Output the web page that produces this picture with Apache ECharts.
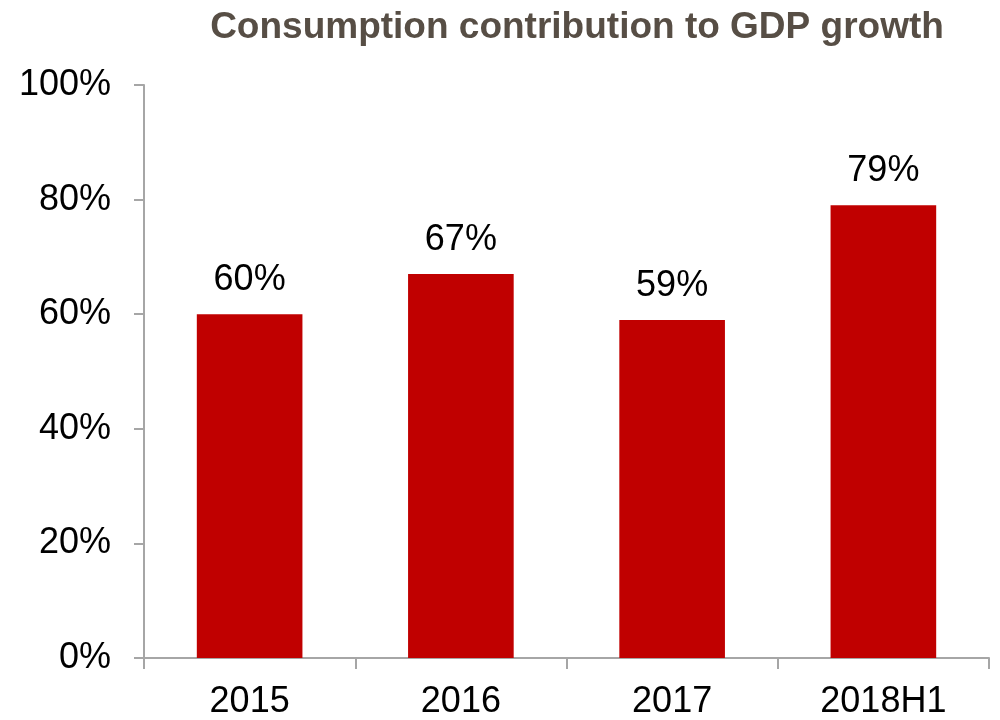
<!DOCTYPE html>
<html>
<head>
<meta charset="utf-8">
<script src="https://cdn.jsdelivr.net/npm/echarts@6/dist/echarts.min.js"></script>
<style>
  html, body { margin: 0; padding: 0; background: #fff; }
  #chart { width: 1000px; height: 720px; }
</style>
</head>
<body>
<div id="chart"></div>
<script>
// Consumption share of GDP growth, percent
const titleText = 'Consumption contribution to GDP growth';
const categories = ['2015', '2016', '2017', '2018H1'];
const contribution = [60, 67, 59, 79];
const yTicks = { min: 0, max: 100, interval: 20 };

const chart = echarts.init(document.getElementById('chart'));
const axisGray = '#a6a6a6';

chart.setOption({
  animation: false,
  backgroundColor: '#ffffff',
  title: {
    text: titleText,
    left: 572,
    textAlign: 'center',
    top: 4,
    textStyle: {
      fontFamily: 'Liberation Sans Narrow, Arial Narrow, Liberation Sans, sans-serif',
      fontWeight: 'bold',
      fontSize: 37,
      color: '#574e45'
    }
  },
  grid: { left: 144, right: 11, top: 85, bottom: 61, containLabel: false },
  xAxis: {
    type: 'category',
    data: categories,
    axisLine: { lineStyle: { color: axisGray, width: 2 } },
    axisTick: { show: true, alignWithLabel: false, length: 11, lineStyle: { color: axisGray, width: 2 } },
    axisLabel: {
      fontFamily: 'Liberation Sans, Arial, sans-serif',
      fontSize: 36,
      color: '#000',
      margin: 26
    }
  },
  yAxis: {
    type: 'value',
    min: yTicks.min,
    max: yTicks.max,
    interval: yTicks.interval,
    axisLine: { show: true, lineStyle: { color: axisGray, width: 2 } },
    axisTick: { show: true, length: 10, lineStyle: { color: axisGray, width: 2 } },
    splitLine: { show: false },
    axisLabel: {
      formatter: '{value}%',
      fontFamily: 'Liberation Sans, Arial, sans-serif',
      fontSize: 36,
      color: '#000',
      margin: 33
    }
  },
  series: [{
    type: 'bar',
    data: contribution,
    barWidth: '50%',
    itemStyle: { color: '#c00000' },
    label: {
      show: true,
      position: 'top',
      distance: 16,
      formatter: '{c}%',
      fontFamily: 'Liberation Sans, Arial, sans-serif',
      fontSize: 36,
      color: '#000'
    }
  }]
});
</script>
</body>
</html>
